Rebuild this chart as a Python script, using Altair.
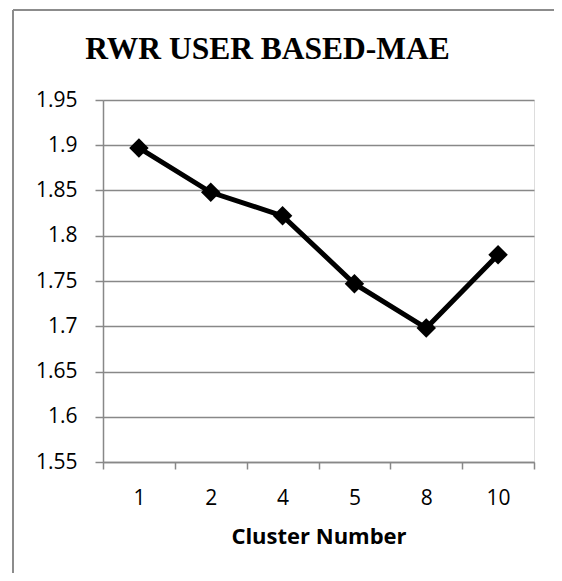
import altair as alt
import pandas as pd

clusters = ["1", "2", "4", "5", "8", "10"]
mae = [1.897, 1.848, 1.822, 1.747, 1.698, 1.779]
y_ticks = [1.55, 1.6, 1.65, 1.7, 1.75, 1.8, 1.85, 1.9, 1.95]
title_text = ["RWR USER BASED-MAE"]

df = pd.DataFrame({"cluster": clusters, "mae": mae})
tdf = pd.DataFrame({"t": title_text})

GRID = "#888888"
FONT = "Open Sans"

x_enc = alt.X(
    "cluster:N",
    sort=clusters,
    scale=alt.Scale(type="band", paddingInner=0, paddingOuter=0),
    bandPosition=0.5,
    axis=alt.Axis(
        title="Cluster Number",
        labelAngle=0,
        tickBand="extent",
        tickSize=7,
        tickColor=GRID,
        tickWidth=1.5,
        domainColor=GRID,
        domainWidth=1.5,
        labelFont=FONT,
        labelFontSize=21,
        labelColor="#000000",
        labelPadding=18,
        titleFont=FONT,
        titleFontSize=22,
        titleFontWeight="bold",
        titleColor="#000000",
        titlePadding=18,
        grid=False,
    ),
)
y_enc = alt.Y(
    "mae:Q",
    scale=alt.Scale(domain=[1.55, 1.95], zero=False, nice=False),
    axis=alt.Axis(
        title=None,
        values=y_ticks,
        format="~g",
        tickSize=8,
        tickColor=GRID,
        tickWidth=1.5,
        domainColor=GRID,
        domainWidth=1.5,
        gridColor=GRID,
        gridWidth=1.5,
        labelFont=FONT,
        labelFontSize=21,
        labelColor="#000000",
        labelPadding=18,
    ),
)

line = alt.Chart(df).mark_line(
    color="black", strokeWidth=5,
    point=alt.OverlayMarkDef(shape="diamond", size=380, filled=True, color="black", opacity=1),
).encode(x=x_enc, y=y_enc)

frame_left = alt.Chart(df).mark_rule(color="#8c8c8c", strokeWidth=2).encode(
    x=alt.value(-90), y=alt.value(-90), y2=alt.value(490)
)
frame_top = alt.Chart(df).mark_rule(color="#8c8c8c", strokeWidth=2).encode(
    x=alt.value(-90), x2=alt.value(460), y=alt.value(-90)
)

title = alt.Chart(tdf).mark_text(
    font="Liberation Serif", fontSize=31.5, fontWeight="bold", color="#000000",
    align="center", baseline="alphabetic",
).encode(text="t:N", x=alt.value(164.5), y=alt.value(-41))

chart = alt.layer(frame_left, frame_top, title, line).properties(
    width=431,
    height=362,
    autosize=alt.AutoSizeParams(type="none"),
    padding={"left": 95, "top": 92, "right": 20, "bottom": 111},
).configure_view(stroke=None).configure(background="white")

chart.save("out.html", embed_options={"renderer": "svg", "actions": False})
